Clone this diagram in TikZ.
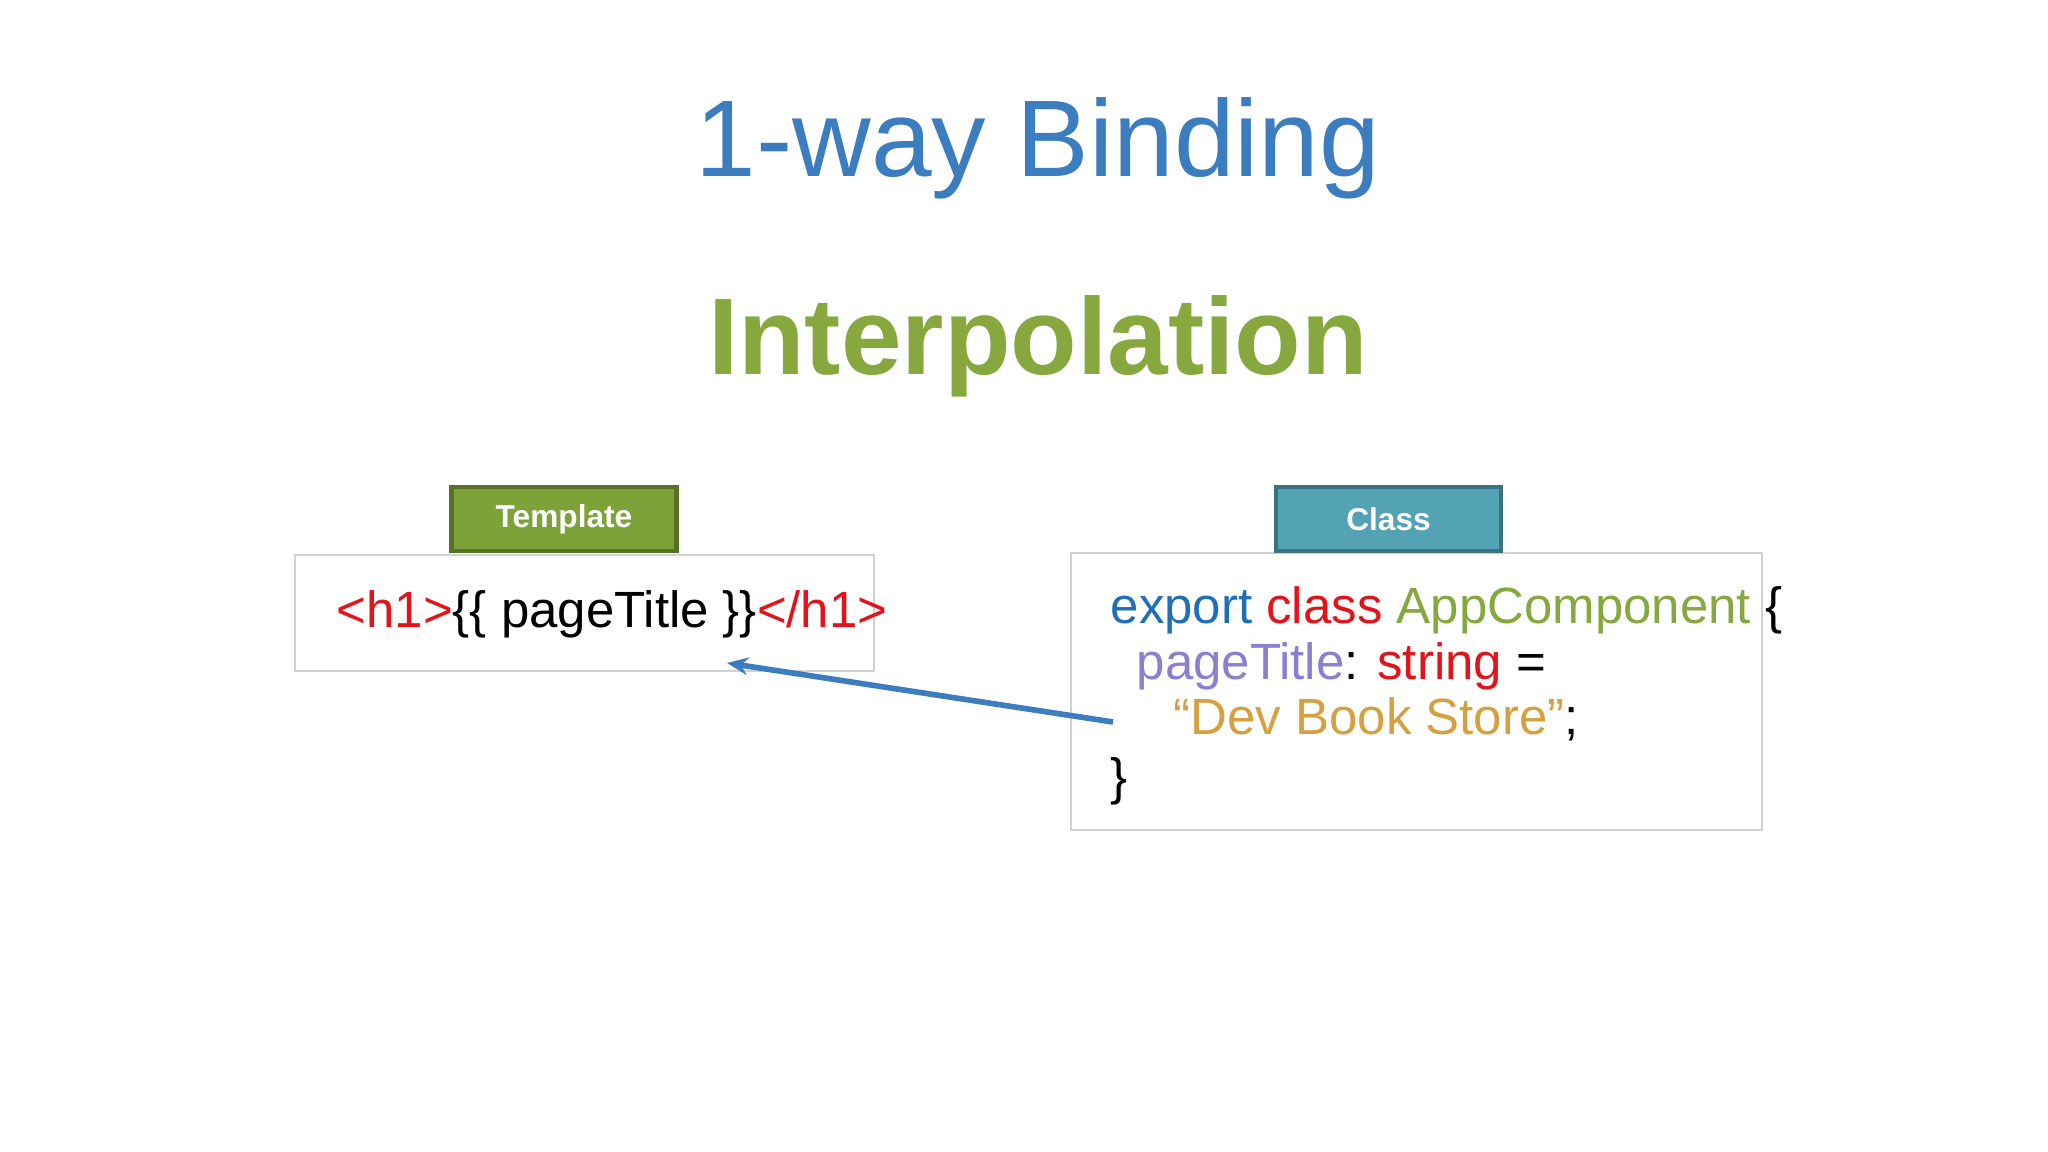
\documentclass[tikz,border=0pt]{standalone}
\usepackage{fontspec}
\setmainfont{Liberation Sans}
\usetikzlibrary{arrows.meta}
\definecolor{tblue}{HTML}{3B7DBF}
\definecolor{tgreen}{HTML}{86A83E}
\definecolor{kblue}{HTML}{1F6FB8}
\definecolor{kred}{HTML}{E3131B}
\definecolor{kpurp}{HTML}{8C7FD0}
\definecolor{korange}{HTML}{D4A040}
\tikzset{
 tab/.style={draw=#1!70!black, line width=1.2pt, minimum width=2.25cm, minimum height=0.64cm, inner sep=0pt, text=white, font=\fontsize{9}{10}\selectfont\bfseries},
 frame/.style={draw=black!18, line width=0.6pt, anchor=north west},
 code/.style={anchor=base west, inner sep=0pt, font=\fontsize{14.5}{16}\selectfont},
}
\definecolor{tabg}{HTML}{7DA23A}
\definecolor{tabc}{HTML}{53A3B5}
\begin{document}
\begin{tikzpicture}[x=1cm,y=1cm]
\useasboundingbox (0,0) rectangle (20.48,-11.52);
\node[text=tblue, font=\fontsize{31}{36}\selectfont] (title) at (10.38,-1.48) {1-way Binding};
\node[text=tgreen, font=\fontsize{31}{36}\selectfont\bfseries] (sub) at (10.38,-3.46) {Interpolation};
\node[frame, minimum width=5.79cm, minimum height=1.16cm] (tf) at (2.94,-5.54) {};
\node[frame, minimum width=6.91cm, minimum height=2.77cm] (cf) at (10.70,-5.52) {};
\node[tab=tabg, fill=tabg] (tt) at (5.64,-5.19) {Template};
\node[tab=tabc, fill=tabc] (ct) at (13.885,-5.19) {Class};
\node[code] (h1) at (3.36,-6.28) {\textcolor{kred}{<h1>}\{\{ pageTitle \}\}\textcolor{kred}{</h1>}};
\node[code] (l1) at (11.10,-6.24) {\textcolor{kblue}{export} \textcolor{kred}{class} \textcolor{tgreen}{AppComponent} \{};
\node[code] (l2) at (11.36,-6.80) {\textcolor{kpurp}{pageTitle}: \textcolor{kred}{string} =};
\node[code] (l3) at (11.73,-7.35) {\textcolor{korange}{“Dev Book Store”};};
\node[code] (l4) at (11.10,-7.94) {\}};
\coordinate (a1) at (11.13,-7.22);
\coordinate (a2) at (7.27,-6.63);
\draw[tblue, line width=1.6pt, -{Stealth[length=6pt,width=5pt]}] (a1) -- (a2);
\end{tikzpicture}
\end{document}
